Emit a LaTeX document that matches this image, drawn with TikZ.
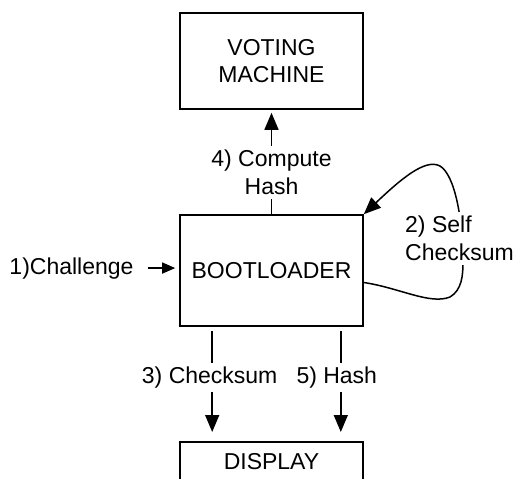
\documentclass[tikz,border=0pt]{standalone}
\usepackage{fontspec}
\setmainfont{Liberation Sans}
\usetikzlibrary{arrows.meta}
\tikzset{
  box/.style={draw, line width=1.6pt, minimum width=183pt, align=center, inner sep=0pt},
  lbl/.style={fill=white, inner sep=4pt, align=center},
  arr/.style={line width=1.5pt, -{Triangle[length=17pt,width=14pt]}},
  smallarr/.style={line width=1.5pt, -{Triangle[length=13pt,width=11pt]}},
}
\begin{document}
\begin{tikzpicture}[x=1pt, y=-1pt, font=\fontsize{23}{27.7}\selectfont]
  % page frame; the display box runs off the bottom edge
  \clip (0,0) rectangle (515,479);

  % components
  \node[box, minimum height=96pt] (vm) at (271.5,61) {VOTING\\MACHINE};
  \node[box, minimum height=111pt] (boot) at (271.5,270.5) {BOOTLOADER};
  \node[box, anchor=north, text height=17pt, text depth=40pt, inner ysep=11pt]
    (display) at (271.5,441) {DISPLAY};

  % 1) challenge into the bootloader
  \node[lbl, anchor=base] (chal) at (71.5,274) {1)Challenge};
  \draw[smallarr, shorten <=10pt, shorten >=4pt] (chal.east) -- (chal.east -| boot.west);

  % 2) self checksum loop
  \draw[arr] ([yshift=-12pt]boot.east)
    .. controls (400,288) and (430,305) .. (450,297)
    .. controls (462,290) and (463,275) .. (463,262)
    .. controls (463,220) and (455,175) .. (440,166)
    .. controls (425,158) and (400,180) .. (boot.north east);
  \node[lbl, align=left, anchor=north west] (l2) at (401,212) {2) Self\\Checksum};

  % 3) checksum and 5) hash to the display
  \draw[arr, shorten <=4pt, shorten >=9pt] ([xshift=33pt]boot.south west)
    -- node[lbl, pos=0.443, xshift=-2.5pt] (l3) {3) Checksum}
    ([xshift=33pt]display.north west);
  \draw[arr, shorten <=4pt, shorten >=9pt] ([xshift=-23pt]boot.south east)
    -- node[lbl, pos=0.443, xshift=-4pt] (l5) {5) Hash}
    ([xshift=-23pt]display.north east);

  % 4) compute hash up to the voting machine
  \draw[arr, shorten >=3pt] (boot.north)
    -- node[lbl, pos=0.4] (l4) {4) Compute\\Hash} (vm.south);
\end{tikzpicture}
\end{document}
